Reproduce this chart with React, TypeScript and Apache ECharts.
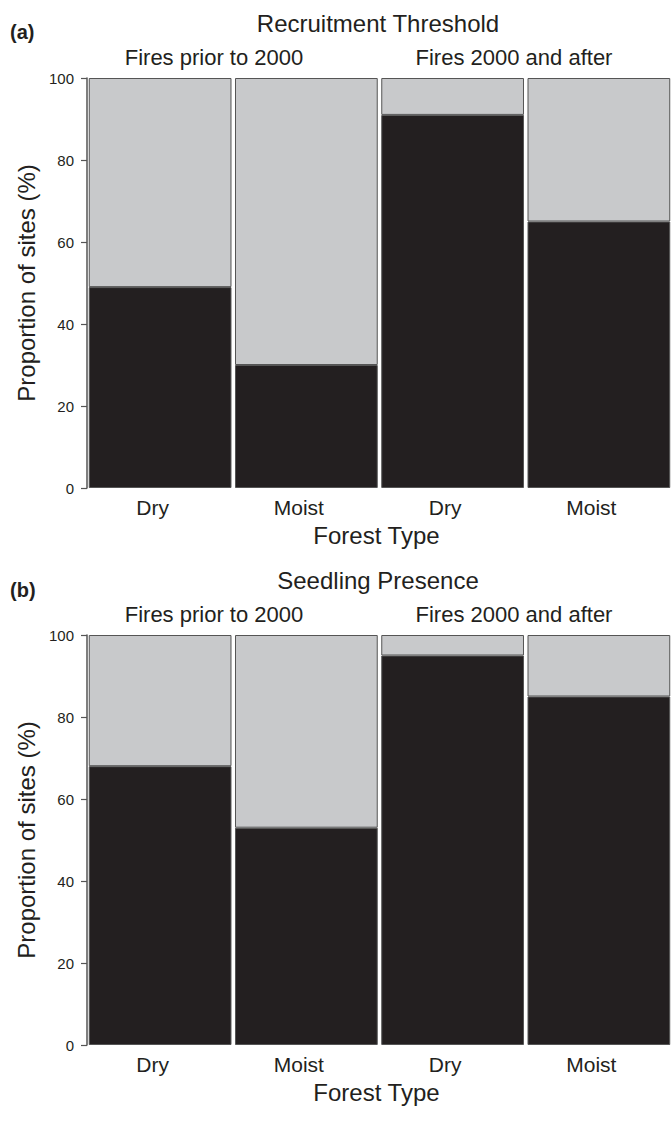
import React, { useEffect, useRef } from "react";
import * as echarts from "echarts";

const forestTypes = ["Dry", "Moist", "Dry", "Moist"];
const yTicks = [0, 20, 40, 60, 80, 100];

// Panel (a) Recruitment Threshold: % sites meeting (black) / not meeting (gray)
const recruitMet = [49, 30, 91, 65];
const recruitNotMet = [51, 70, 9, 35];

// Panel (b) Seedling Presence: % sites with (black) / without (gray)
const seedlingPresent = [68, 53, 95, 85];
const seedlingAbsent = [32, 47, 5, 15];

const periodLabels = ["Fires prior to 2000", "Fires 2000 and after"];
const panelTitles = ["Recruitment Threshold", "Seedling Presence"];
const panelTags = ["(a)", "(b)"];

const FONT = "'Liberation Sans', Arial, Helvetica, sans-serif";
const INK = "#231f20";
const GRAY = "#c8c9cb";
const EDGE = "#555555";

export default function App() {
  const ref = useRef<HTMLDivElement>(null);

  useEffect(() => {
    document.body.style.margin = "0";
    if (!ref.current) return;
    const chart = echarts.init(ref.current, null, { renderer: "svg" });

    const offsets = [0, 557];
    const gridTops = [78, 635];

    const xAxes = gridTops.map((_, i) => ({
      type: "category",
      gridIndex: i,
      data: forestTypes,
      axisLine: { show: false },
      axisTick: { show: false },
      axisLabel: {
        fontSize: 21,
        color: INK,
        fontFamily: FONT,
        margin: 9,
        padding: [0, 15, 0, 0],
      },
      name: "Forest Type",
      nameLocation: "middle",
      nameGap: 35,
      nameTextStyle: { fontSize: 24, color: INK, fontFamily: FONT, padding: [0, 6, 0, 0] },
    }));

    const yAxes = gridTops.map((_, i) => ({
      type: "value",
      gridIndex: i,
      min: yTicks[0],
      max: yTicks[yTicks.length - 1],
      interval: yTicks[1] - yTicks[0],
      axisLine: { show: true, lineStyle: { color: EDGE, width: 1.5 } },
      axisTick: { show: true, length: 6, lineStyle: { color: EDGE, width: 1.2 } },
      axisLabel: { fontSize: 15, color: INK, fontFamily: FONT, margin: 13 },
      splitLine: { show: false },
      name: "Proportion of sites (%)",
      nameLocation: "middle",
      nameGap: 45,
      nameTextStyle: { fontSize: 24, color: INK, fontFamily: FONT },
    }));

    const panels = [
      [recruitMet, recruitNotMet],
      [seedlingPresent, seedlingAbsent],
    ];

    const series: any[] = [];
    panels.forEach(([lower, upper], i) => {
      series.push({
        type: "bar",
        xAxisIndex: i,
        yAxisIndex: i,
        stack: "p" + i,
        data: lower,
        barCategoryGap: "2.4%",
        itemStyle: { color: INK, borderColor: EDGE, borderWidth: 1 },
      });
      series.push({
        type: "bar",
        xAxisIndex: i,
        yAxisIndex: i,
        stack: "p" + i,
        data: upper,
        barCategoryGap: "2.4%",
        itemStyle: { color: GRAY, borderColor: EDGE, borderWidth: 1 },
      });
    });

    const graphics: any[] = [];
    offsets.forEach((dy, i) => {
      graphics.push({
        type: "text",
        left: 10,
        top: 22 + dy + (i === 1 ? 1 : 0),
        style: { text: panelTags[i], fontSize: 20, fontWeight: "bold", fill: INK, fontFamily: FONT },
      });
      graphics.push({
        type: "text",
        x: 378,
        y: 23 + dy,
        style: {
          text: panelTitles[i],
          fontSize: 24,
          fill: INK,
          fontFamily: FONT,
          textAlign: "center",
          textVerticalAlign: "middle",
        },
      });
      graphics.push({
        type: "text",
        x: 214,
        y: 57 + dy,
        style: {
          text: periodLabels[0],
          fontSize: 22,
          fill: INK,
          fontFamily: FONT,
          textAlign: "center",
          textVerticalAlign: "middle",
        },
      });
      graphics.push({
        type: "text",
        x: 514,
        y: 57 + dy,
        style: {
          text: periodLabels[1],
          fontSize: 22,
          fill: INK,
          fontFamily: FONT,
          textAlign: "center",
          textVerticalAlign: "middle",
        },
      });
    });

    chart.setOption({
      animation: false,
      backgroundColor: "#ffffff",
      grid: gridTops.map((t) => ({ left: 87, top: t, width: 585, height: 410 })),
      xAxis: xAxes,
      yAxis: yAxes,
      series,
      graphic: graphics,
    });

    return () => chart.dispose();
  }, []);

  return <div ref={ref} style={{ width: 672, height: 1128 }} />;
}
